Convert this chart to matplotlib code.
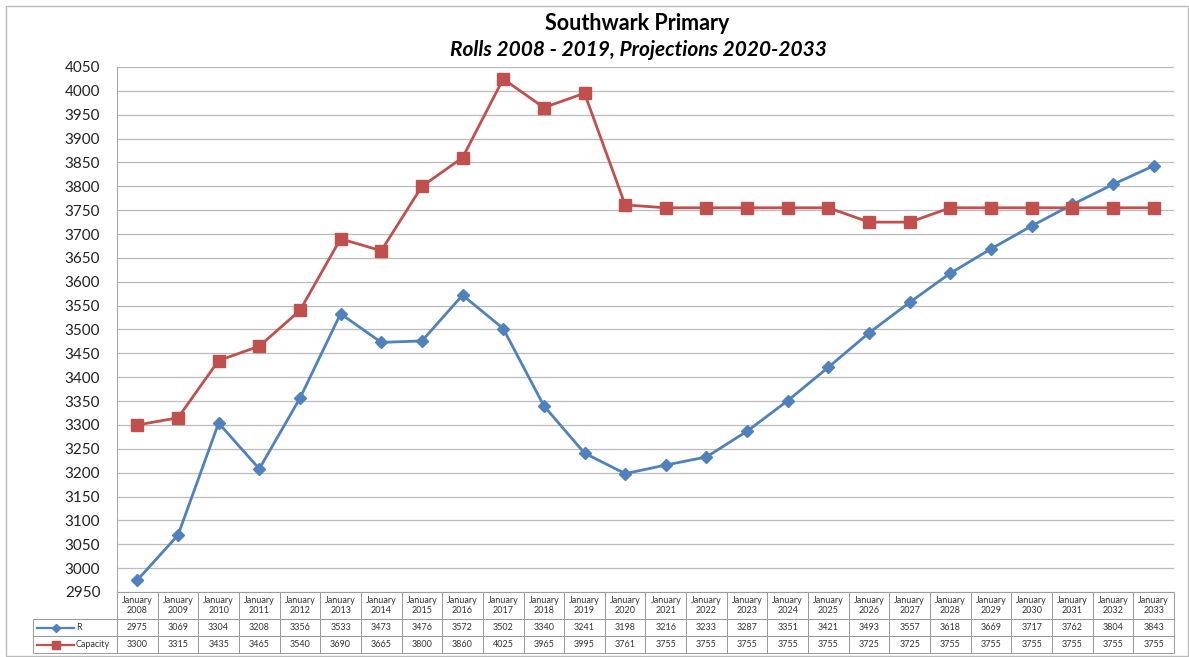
import matplotlib
matplotlib.use('Agg')
import matplotlib.pyplot as plt
from matplotlib.lines import Line2D
from matplotlib.patches import Rectangle
import numpy as np

years = list(range(2008, 2034))
roll = [2975, 3069, 3304, 3208, 3356, 3533, 3473, 3476, 3572, 3502, 3340, 3241,
        3198, 3216, 3233, 3287, 3351, 3421, 3493, 3557, 3618, 3669, 3717, 3762, 3804, 3843]
capacity = [3300, 3315, 3435, 3465, 3540, 3690, 3665, 3800, 3860, 4025, 3965, 3995,
            3761, 3755, 3755, 3755, 3755, 3755, 3725, 3725, 3755, 3755, 3755, 3755, 3755, 3755]
series_names = ['R', 'Capacity']

blue = '#4F81BD'
red = '#C0504D'

plt.rcParams['font.family'] = ['Lato', 'DejaVu Sans']

fig = plt.figure(figsize=(11.89, 6.57), dpi=100)
W, H = 1189, 657
ax = fig.add_axes([117 / W, 1 - 592 / H, (1174 - 117) / W, (592 - 67) / H])

x = np.arange(len(years))
ax.plot(x, roll, color=blue, lw=2, marker='D', ms=6, zorder=3)
ax.plot(x, capacity, color=red, lw=2, marker='s', ms=8, zorder=3)

ax.set_xlim(-0.5, len(years) - 0.5)
ax.set_ylim(2950, 4050)
ax.set_yticks(np.arange(2950, 4051, 50))
ax.tick_params(axis='y', labelsize=11, length=0, pad=12, labelcolor='#222222')
ax.set_xticks([])
ax.grid(axis='y', color='#BBBBBB', lw=0.9)
ax.set_axisbelow(True)
for s in ['top', 'right', 'bottom']:
    ax.spines[s].set_visible(False)
ax.spines['left'].set_color('#AAAAAA')

# data table under the plot
header = [''] + ['January\n%d' % y for y in years]
rows = [header,
        [''] + [str(v) for v in roll],
        [''] + [str(v) for v in capacity]]
axw = 1174 - 117
axh = 592 - 67
label_w = 84.0
col_w = axw / len(years)
total_w = label_w + col_w * len(years)
left = (33 - 117) / axw
tb = ax.table(cellText=rows, colWidths=[label_w / total_w] + [col_w / total_w] * len(years),
              cellLoc='center', bbox=[left, (592 - 653) / axh, total_w / axw, (653 - 592) / axh])
tb.auto_set_font_size(False)
for (r, c), cell in tb.get_celld().items():
    cell.set_edgecolor('#999999')
    cell.set_linewidth(0.7)
    cell.get_text().set_fontsize(6.5)
    cell.get_text().set_color('#333333')
    cell.set_height(27 if r == 0 else 17)
    if r == 0 and c == 0:
        cell.set_visible(False)

# legend keys in the row label cells
for i, (name, col, mk, ms) in enumerate([(series_names[0], blue, 'D', 4), (series_names[1], red, 's', 5.5)]):
    yc = (592 - (627.5 + 17 * i)) / axh
    x0 = (37 - 117) / axw
    x1 = (74 - 117) / axw
    ax.add_line(Line2D([x0, x1], [yc, yc], transform=ax.transAxes, color=col, lw=1.6, clip_on=False))
    ax.add_line(Line2D([(x0 + x1) / 2], [yc], transform=ax.transAxes, color=col, marker=mk, ms=ms,
                       clip_on=False, ls='none'))
    ax.text((76 - 117) / axw, yc, name, transform=ax.transAxes, fontsize=6.5, va='center',
            ha='left', color='#333333')

fig.text(637 / W, 1 - 24 / H, 'Southwark Primary', ha='center', va='center', fontsize=15.5, fontweight='bold')
fig.text(638 / W, 1 - 50 / H, 'Rolls 2008 - 2019, Projections 2020-2033', ha='center', va='center',
         fontsize=15, fontweight='bold', style='italic')

fig.patches.append(Rectangle((6 / W, 1 - 656 / H), (1188 - 6) / W, (656 - 6) / H,
                             transform=fig.transFigure, fill=False, edgecolor='#BBBBBB', lw=1))

fig.savefig('out.png', dpi=100)
